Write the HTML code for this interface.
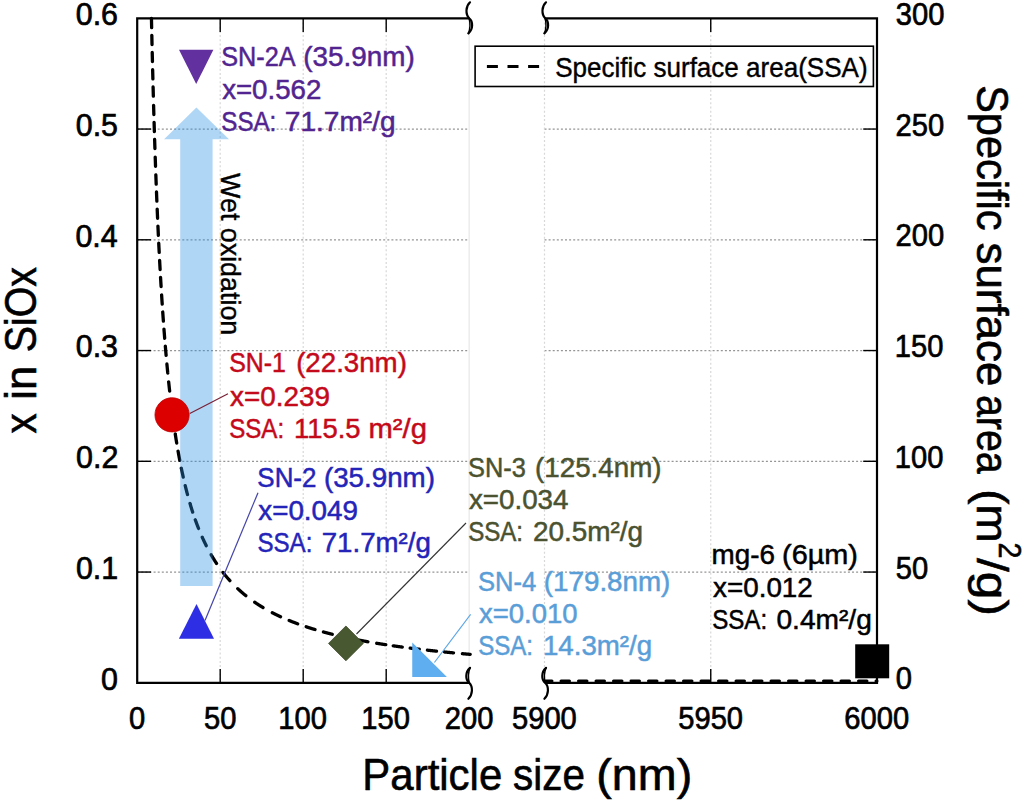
<!DOCTYPE html>
<html><head><meta charset="utf-8"><style>
html,body{margin:0;padding:0;background:#fff;overflow:hidden;width:1025px;height:800px;}
svg{display:block;font-family:"Liberation Sans", sans-serif;}
</style></head><body>
<svg width="1025" height="800" viewBox="0 0 1025 800">
<rect width="1025" height="800" fill="#fff"/>
<g stroke="#959595" stroke-width="1.2" stroke-dasharray="2 2.1"><line x1="137.2" y1="572.05" x2="469.20" y2="572.05"/><line x1="544.5" y1="572.05" x2="877.00" y2="572.05"/><line x1="137.2" y1="461.30" x2="469.20" y2="461.30"/><line x1="544.5" y1="461.30" x2="877.00" y2="461.30"/><line x1="137.2" y1="350.55" x2="469.20" y2="350.55"/><line x1="544.5" y1="350.55" x2="877.00" y2="350.55"/><line x1="137.2" y1="239.80" x2="469.20" y2="239.80"/><line x1="544.5" y1="239.80" x2="877.00" y2="239.80"/><line x1="137.2" y1="129.05" x2="469.20" y2="129.05"/><line x1="544.5" y1="129.05" x2="877.00" y2="129.05"/></g>
<g stroke="#d8d8d8" stroke-width="1.2" stroke-dasharray="2 2.2"><line x1="220.20" y1="18.299999999999955" x2="220.20" y2="682.8"/><line x1="303.20" y1="18.299999999999955" x2="303.20" y2="682.8"/><line x1="386.20" y1="18.299999999999955" x2="386.20" y2="682.8"/><line x1="544.50" y1="18.299999999999955" x2="544.50" y2="682.8"/><line x1="710.75" y1="18.299999999999955" x2="710.75" y2="682.8"/></g>
<line x1="469.20" y1="18.299999999999955" x2="469.20" y2="682.8" stroke="#ececec" stroke-width="1.5"/>
<g stroke="#000" stroke-width="1.4"><line x1="137.2" y1="572.05" x2="151.00" y2="572.05"/><line x1="863.20" y1="572.05" x2="877.0" y2="572.05"/><line x1="137.2" y1="461.30" x2="151.00" y2="461.30"/><line x1="863.20" y1="461.30" x2="877.0" y2="461.30"/><line x1="137.2" y1="350.55" x2="151.00" y2="350.55"/><line x1="863.20" y1="350.55" x2="877.0" y2="350.55"/><line x1="137.2" y1="239.80" x2="151.00" y2="239.80"/><line x1="863.20" y1="239.80" x2="877.0" y2="239.80"/><line x1="137.2" y1="129.05" x2="151.00" y2="129.05"/><line x1="863.20" y1="129.05" x2="877.0" y2="129.05"/><line x1="220.20" y1="682.8" x2="220.20" y2="669.00"/><line x1="220.20" y1="18.299999999999955" x2="220.20" y2="32.10"/><line x1="303.20" y1="682.8" x2="303.20" y2="669.00"/><line x1="303.20" y1="18.299999999999955" x2="303.20" y2="32.10"/><line x1="386.20" y1="682.8" x2="386.20" y2="669.00"/><line x1="386.20" y1="18.299999999999955" x2="386.20" y2="32.10"/><line x1="710.75" y1="682.8" x2="710.75" y2="669.00"/><line x1="710.75" y1="18.299999999999955" x2="710.75" y2="32.10"/></g>
<path d="M469.2,18.299999999999955 H137.2 V682.8 H469.2 M545.2,18.299999999999955 H877.0 V682.8 H545.2" fill="none" stroke="#000" stroke-width="2.2"/>
<g transform="translate(469.2,682.8)"><path d="M0.8,-15 C-4,-11 -4,-3 0,0 C4,4 3.5,12 -0.8,16" fill="none" stroke="#000" stroke-width="2.2" stroke-linecap="round"/><path d="M0.8,-15 C-1,-11 -1,-4 0,0" fill="none" stroke="#000" stroke-width="1.6" stroke-linecap="round"/></g>
<g transform="translate(545.2,682.8)"><path d="M0.8,-15 C-4,-11 -4,-3 0,0 C4,4 3.5,12 -0.8,16" fill="none" stroke="#000" stroke-width="2.2" stroke-linecap="round"/><path d="M0.8,-15 C-1,-11 -1,-4 0,0" fill="none" stroke="#000" stroke-width="1.6" stroke-linecap="round"/></g>
<g transform="translate(469.2,18.299999999999955) rotate(180)"><path d="M0.8,-15 C-4,-11 -4,-3 0,0 C4,4 3.5,12 -0.8,16" fill="none" stroke="#000" stroke-width="2.2" stroke-linecap="round"/><path d="M0.8,-15 C-1,-11 -1,-4 0,0" fill="none" stroke="#000" stroke-width="1.6" stroke-linecap="round"/></g>
<g transform="translate(545.2,18.299999999999955) rotate(180)"><path d="M0.8,-15 C-4,-11 -4,-3 0,0 C4,4 3.5,12 -0.8,16" fill="none" stroke="#000" stroke-width="2.2" stroke-linecap="round"/><path d="M0.8,-15 C-1,-11 -1,-4 0,0" fill="none" stroke="#000" stroke-width="1.6" stroke-linecap="round"/></g>
<path d="M151.45,18.30 L151.45,18.30 L151.65,27.70 M151.82,35.33 L151.83,35.44 L152.03,44.52 M152.22,52.39 L152.22,52.61 L152.44,61.39 L152.44,61.59 M152.64,69.72 L152.64,69.73 L152.86,78.05 L152.88,78.91 M153.09,87.02 L153.10,87.15 L153.31,95.01 L153.34,96.22 M153.59,105.29 L153.60,105.48 L153.81,112.86 L153.86,114.49 M154.09,122.38 L154.10,122.54 L154.31,129.50 L154.38,131.57 M154.62,139.38 L154.63,139.45 L154.84,146.00 L154.92,148.57 M155.21,157.11 L155.21,157.23 L155.43,163.36 L155.53,166.30 M155.84,174.99 L155.85,175.05 L156.06,180.77 L156.19,184.18 M156.49,191.98 L156.50,192.11 L156.71,197.45 L156.86,201.18 M157.19,209.09 L157.19,209.19 L157.40,214.17 L157.58,218.28 M157.93,226.11 L157.93,226.18 L158.15,230.81 L158.36,235.30 M158.74,243.20 L158.74,243.30 L158.95,247.59 L159.17,251.80 L159.20,252.38 M159.61,260.29 L159.61,260.38 L159.83,264.35 L160.04,268.24 L160.11,269.48 M160.55,277.31 L160.55,277.39 L160.77,281.04 L160.98,284.63 L161.09,286.49 M161.61,295.00 L161.62,295.03 L161.83,298.38 L162.04,301.66 L162.21,304.19 M162.73,312.00 L162.74,312.05 L162.95,315.11 L163.16,318.12 L163.38,321.08 L163.38,321.18 M163.97,329.09 L163.97,329.12 L164.18,331.91 L164.40,334.65 L164.61,337.35 L164.68,338.27 M165.32,346.10 L165.32,346.16 L165.54,348.68 L165.75,351.17 L165.96,353.62 L166.11,355.27 M166.90,363.99 L166.90,364.04 L167.12,366.30 L167.33,368.54 L167.54,370.74 L167.75,372.91 L167.78,373.15 M168.66,381.89 L168.67,381.91 L168.88,383.92 L169.09,385.92 L169.30,387.88 L169.52,389.82 L169.65,391.04 M170.60,399.30 L170.60,399.33 L170.81,401.12 L171.03,402.89 L171.24,404.64 L171.45,406.36 L171.66,408.07 L171.71,408.43 M172.78,416.66 L172.78,416.68 L172.99,418.26 L173.20,419.82 L173.42,421.37 L173.63,422.89 L173.84,424.40 L174.04,425.77 M175.25,433.98 L175.25,433.99 L175.47,435.38 L175.68,436.74 L175.89,438.09 L176.10,439.43 L176.32,440.75 L176.53,442.06 L176.69,443.07 M178.09,451.27 L178.10,451.29 L178.31,452.48 L178.52,453.67 L178.73,454.84 L178.95,456.00 L179.16,457.15 L179.37,458.29 L179.58,459.41 L179.76,460.32 M181.31,468.17 L181.32,468.18 L181.53,469.21 L181.74,470.23 L181.95,471.24 L182.17,472.24 L182.38,473.23 L182.59,474.21 L182.80,475.18 L183.02,476.14 L183.23,477.10 L183.24,477.16 M185.20,485.57 L185.20,485.57 L185.42,486.44 L185.63,487.30 L185.84,488.15 L186.05,489.00 L186.27,489.84 L186.48,490.67 L186.69,491.50 L186.90,492.31 L187.12,493.12 L187.33,493.93 L187.48,494.48 M189.96,503.35 L189.96,503.36 L190.18,504.08 L190.39,504.79 L190.60,505.50 L190.81,506.21 L191.03,506.90 L191.24,507.59 L191.45,508.28 L191.66,508.96 L191.88,509.64 L192.09,510.31 L192.30,510.97 L192.51,511.63 L192.68,512.14 M195.29,519.82 L195.30,519.83 L195.51,520.43 L195.72,521.02 L195.94,521.60 L196.15,522.18 L196.36,522.76 L196.57,523.33 L196.79,523.90 L197.00,524.47 L197.21,525.03 L197.42,525.58 L197.64,526.14 L197.85,526.69 L198.06,527.23 L198.27,527.77 L198.49,528.31 L198.54,528.43 M202.26,537.28 L202.27,537.29 L202.48,537.76 L202.69,538.24 L202.91,538.70 L203.12,539.17 L203.33,539.63 L203.54,540.09 L203.76,540.54 L203.97,541.00 L204.18,541.45 L204.39,541.89 L204.61,542.34 L204.82,542.78 L205.03,543.22 L205.24,543.65 L205.46,544.09 L205.67,544.52 L205.88,544.94 L206.09,545.37 L206.24,545.66 M211.08,554.64 L211.08,554.65 L211.29,555.02 L211.51,555.38 L211.72,555.75 L211.93,556.11 L212.14,556.47 L212.36,556.82 L212.57,557.18 L212.78,557.53 L212.99,557.88 L213.21,558.23 L213.42,558.58 L213.63,558.92 L213.84,559.27 L214.06,559.61 L214.27,559.95 L214.48,560.29 L214.69,560.62 L214.91,560.96 L215.12,561.29 L215.33,561.62 L215.54,561.95 L215.76,562.28 L215.97,562.60 L216.18,562.92 L216.39,563.25 L216.53,563.46 M222.87,572.29 L222.88,572.29 L223.09,572.56 L223.30,572.84 L223.51,573.11 L223.73,573.38 L223.94,573.64 L224.15,573.91 L224.36,574.18 L224.58,574.44 L224.79,574.70 L225.00,574.96 L225.21,575.22 L225.43,575.48 L225.64,575.74 L225.85,576.00 L226.06,576.25 L226.28,576.51 L226.49,576.76 L226.70,577.01 L226.91,577.26 L227.13,577.51 L227.34,577.76 L227.55,578.01 L227.76,578.25 L227.98,578.50 L228.19,578.74 L228.40,578.98 L228.61,579.23 L228.83,579.47 L229.04,579.71 L229.25,579.94 L229.46,580.18 L229.68,580.42 L229.89,580.65 L229.89,580.65 M237.75,588.64 L237.75,588.64 L237.96,588.84 L238.18,589.03 L238.39,589.23 L238.60,589.43 L238.81,589.62 L239.03,589.82 L239.24,590.01 L239.45,590.20 L239.66,590.40 L239.88,590.59 L240.09,590.78 L240.30,590.97 L240.51,591.16 L240.73,591.34 L240.94,591.53 L241.15,591.72 L241.36,591.90 L241.58,592.09 L241.79,592.27 L242.00,592.46 L242.21,592.64 L242.43,592.82 L242.64,593.00 L242.85,593.18 L243.06,593.36 L243.28,593.54 L243.49,593.72 L243.70,593.90 L243.91,594.08 L244.13,594.25 L244.34,594.43 L244.55,594.60 L244.76,594.78 L244.98,594.95 L245.19,595.12 L245.40,595.30 L245.61,595.47 L245.83,595.64 L245.83,595.64 M254.72,602.24 L254.72,602.24 L254.94,602.38 L255.15,602.53 L255.36,602.67 L255.57,602.82 L255.79,602.96 L256.00,603.10 L256.21,603.24 L256.42,603.39 L256.64,603.53 L256.85,603.67 L257.06,603.81 L257.27,603.95 L257.49,604.09 L257.70,604.23 L257.91,604.37 L258.12,604.50 L258.34,604.64 L258.55,604.78 L258.76,604.91 L258.97,605.05 L259.19,605.18 L259.40,605.32 L259.61,605.45 L259.82,605.59 L260.04,605.72 L260.25,605.86 L260.46,605.99 L260.67,606.12 L260.89,606.25 L261.10,606.38 L261.31,606.51 L261.52,606.64 L261.74,606.77 L261.95,606.90 L262.16,607.03 L262.37,607.16 L262.59,607.29 L262.80,607.42 L263.01,607.54 L263.03,607.56 M272.26,612.70 L272.26,612.70 L272.47,612.81 L272.69,612.92 L272.90,613.03 L273.11,613.14 L273.32,613.25 L273.54,613.35 L273.75,613.46 L273.96,613.57 L274.17,613.68 L274.39,613.78 L274.60,613.89 L274.81,614.00 L275.02,614.10 L275.24,614.21 L275.45,614.31 L275.66,614.42 L275.87,614.52 L276.09,614.63 L276.30,614.73 L276.51,614.84 L276.72,614.94 L276.94,615.04 L277.15,615.15 L277.36,615.25 L277.57,615.35 L277.79,615.45 L278.00,615.55 L278.21,615.66 L278.42,615.76 L278.64,615.86 L278.85,615.96 L279.06,616.06 L279.27,616.16 L279.49,616.26 L279.70,616.36 L279.91,616.46 L280.12,616.55 L280.34,616.65 L280.52,616.74 M289.10,620.47 L289.11,620.47 L289.32,620.56 L289.53,620.65 L289.74,620.73 L289.96,620.82 L290.17,620.91 L290.38,620.99 L290.59,621.08 L290.81,621.16 L291.02,621.25 L291.23,621.33 L291.44,621.42 L291.66,621.50 L291.87,621.59 L292.08,621.67 L292.29,621.75 L292.51,621.84 L292.72,621.92 L292.93,622.00 L293.14,622.09 L293.36,622.17 L293.57,622.25 L293.78,622.33 L293.99,622.42 L294.21,622.50 L294.42,622.58 L294.63,622.66 L294.84,622.74 L295.06,622.82 L295.27,622.90 L295.48,622.98 L295.69,623.06 L295.91,623.14 L296.12,623.22 L296.33,623.30 L296.54,623.38 L296.76,623.46 L296.97,623.54 L297.18,623.62 L297.39,623.70 L297.61,623.78 L297.68,623.80 M306.22,626.78 L306.22,626.78 L306.44,626.85 L306.65,626.92 L306.86,626.99 L307.07,627.06 L307.29,627.13 L307.50,627.20 L307.71,627.27 L307.92,627.34 L308.14,627.41 L308.35,627.48 L308.56,627.55 L308.77,627.62 L308.99,627.69 L309.20,627.75 L309.41,627.82 L309.62,627.89 L309.84,627.96 L310.05,628.02 L310.26,628.09 L310.47,628.16 L310.69,628.23 L310.90,628.29 L311.11,628.36 L311.32,628.42 L311.54,628.49 L311.75,628.56 L311.96,628.62 L312.17,628.69 L312.39,628.75 L312.60,628.82 L312.81,628.89 L313.02,628.95 L313.24,629.02 L313.45,629.08 L313.66,629.15 L313.87,629.21 L314.09,629.27 L314.30,629.34 L314.51,629.40 L314.72,629.47 L314.94,629.53 L315.00,629.55 M323.35,631.94 L323.36,631.94 L323.57,632.00 L323.78,632.06 L323.99,632.11 L324.21,632.17 L324.42,632.23 L324.63,632.29 L324.84,632.34 L325.06,632.40 L325.27,632.46 L325.48,632.51 L325.69,632.57 L325.91,632.63 L326.12,632.68 L326.33,632.74 L326.54,632.80 L326.76,632.85 L326.97,632.91 L327.18,632.96 L327.39,633.02 L327.61,633.07 L327.82,633.13 L328.03,633.19 L328.24,633.24 L328.46,633.30 L328.67,633.35 L328.88,633.41 L329.09,633.46 L329.31,633.51 L329.52,633.57 L329.73,633.62 L329.94,633.68 L330.16,633.73 L330.37,633.79 L330.58,633.84 L330.79,633.89 L331.01,633.95 L331.22,634.00 L331.43,634.05 L331.64,634.11 L331.86,634.16 L332.07,634.21 L332.26,634.26 M341.17,636.38 L341.17,636.38 L341.38,636.43 L341.60,636.48 L341.81,636.53 L342.02,636.57 L342.23,636.62 L342.45,636.67 L342.66,636.72 L342.87,636.77 L343.08,636.81 L343.30,636.86 L343.51,636.91 L343.72,636.95 L343.93,637.00 L344.15,637.05 L344.36,637.10 L344.57,637.14 L344.78,637.19 L345.00,637.24 L345.21,637.28 L345.42,637.33 L345.63,637.38 L345.85,637.42 L346.06,637.47 L346.27,637.51 L346.48,637.56 L346.70,637.61 L346.91,637.65 L347.12,637.70 L347.33,637.74 L347.55,637.79 L347.76,637.83 L347.97,637.88 L348.18,637.92 L348.40,637.97 L348.61,638.01 L348.82,638.06 L349.03,638.10 L349.25,638.15 L349.46,638.19 L349.67,638.24 L349.88,638.28 L350.10,638.33 L350.15,638.34 M358.87,640.09 L358.87,640.09 L359.08,640.13 L359.30,640.17 L359.51,640.21 L359.72,640.25 L359.93,640.29 L360.15,640.33 L360.36,640.37 L360.57,640.41 L360.78,640.45 L361.00,640.49 L361.21,640.53 L361.42,640.57 L361.63,640.61 L361.85,640.65 L362.06,640.69 L362.27,640.73 L362.48,640.77 L362.70,640.81 L362.91,640.85 L363.12,640.89 L363.33,640.93 L363.55,640.97 L363.76,641.01 L363.97,641.05 L364.18,641.09 L364.40,641.13 L364.61,641.17 L364.82,641.20 L365.03,641.24 L365.25,641.28 L365.46,641.32 L365.67,641.36 L365.88,641.40 L366.10,641.44 L366.31,641.47 L366.52,641.51 L366.73,641.55 L366.95,641.59 L367.16,641.63 L367.37,641.67 L367.58,641.70 L367.80,641.74 L367.92,641.76 M376.68,643.26 L376.68,643.27 L376.90,643.30 L377.11,643.34 L377.32,643.37 L377.53,643.40 L377.75,643.44 L377.96,643.47 L378.17,643.51 L378.38,643.54 L378.60,643.58 L378.81,643.61 L379.02,643.65 L379.23,643.68 L379.45,643.72 L379.66,643.75 L379.87,643.78 L380.08,643.82 L380.30,643.85 L380.51,643.89 L380.72,643.92 L380.93,643.95 L381.15,643.99 L381.36,644.02 L381.57,644.06 L381.78,644.09 L382.00,644.12 L382.21,644.16 L382.42,644.19 L382.63,644.22 L382.85,644.26 L383.06,644.29 L383.27,644.32 L383.48,644.36 L383.70,644.39 L383.91,644.42 L384.12,644.46 L384.33,644.49 L384.55,644.52 L384.76,644.55 L384.97,644.59 L385.18,644.62 L385.40,644.65 L385.61,644.69 L385.77,644.71 M393.18,645.81 L393.19,645.81 L393.40,645.84 L393.61,645.87 L393.82,645.91 L394.04,645.94 L394.25,645.97 L394.46,646.00 L394.67,646.03 L394.89,646.06 L395.10,646.09 L395.31,646.12 L395.52,646.15 L395.74,646.18 L395.95,646.21 L396.16,646.24 L396.37,646.27 L396.59,646.30 L396.80,646.33 L397.01,646.36 L397.22,646.39 L397.44,646.42 L397.65,646.45 L397.86,646.48 L398.07,646.51 L398.29,646.54 L398.50,646.57 L398.71,646.59 L398.92,646.62 L399.14,646.65 L399.35,646.68 L399.56,646.71 L399.77,646.74 L399.99,646.77 L400.20,646.80 L400.41,646.83 L400.62,646.86 L400.84,646.89 L401.05,646.92 L401.26,646.94 L401.47,646.97 L401.69,647.00 L401.90,647.03 L402.11,647.06 L402.30,647.08 M410.14,648.11 L410.14,648.11 L410.36,648.14 L410.57,648.17 L410.78,648.19 L410.99,648.22 L411.21,648.25 L411.42,648.27 L411.63,648.30 L411.84,648.33 L412.06,648.35 L412.27,648.38 L412.48,648.41 L412.69,648.43 L412.91,648.46 L413.12,648.49 L413.33,648.51 L413.54,648.54 L413.76,648.56 L413.97,648.59 L414.18,648.62 L414.39,648.64 L414.61,648.67 L414.82,648.70 L415.03,648.72 L415.24,648.75 L415.46,648.77 L415.67,648.80 L415.88,648.83 L416.09,648.85 L416.31,648.88 L416.52,648.90 L416.73,648.93 L416.94,648.95 L417.16,648.98 L417.37,649.01 L417.58,649.03 L417.79,649.06 L418.01,649.08 L418.22,649.11 L418.43,649.13 L418.64,649.16 L418.86,649.18 L419.07,649.21 L419.27,649.23 M427.40,650.17 L427.40,650.17 L427.61,650.20 L427.82,650.22 L428.04,650.25 L428.25,650.27 L428.46,650.29 L428.67,650.32 L428.89,650.34 L429.10,650.36 L429.31,650.39 L429.52,650.41 L429.74,650.43 L429.95,650.46 L430.16,650.48 L430.37,650.51 L430.59,650.53 L430.80,650.55 L431.01,650.58 L431.22,650.60 L431.44,650.62 L431.65,650.64 L431.86,650.67 L432.07,650.69 L432.29,650.71 L432.50,650.74 L432.71,650.76 L432.92,650.78 L433.14,650.81 L433.35,650.83 L433.56,650.85 L433.77,650.88 L433.99,650.90 L434.20,650.92 L434.41,650.94 L434.62,650.97 L434.84,650.99 L435.05,651.01 L435.26,651.03 L435.47,651.06 L435.69,651.08 L435.90,651.10 L436.11,651.12 L436.32,651.15 L436.54,651.17 L436.54,651.17 M444.39,651.98 L444.39,651.98 L444.61,652.00 L444.82,652.02 L445.03,652.04 L445.24,652.06 L445.46,652.09 L445.67,652.11 L445.88,652.13 L446.09,652.15 L446.31,652.17 L446.52,652.19 L446.73,652.21 L446.94,652.23 L447.16,652.25 L447.37,652.27 L447.58,652.30 L447.79,652.32 L448.01,652.34 L448.22,652.36 L448.43,652.38 L448.64,652.40 L448.86,652.42 L449.07,652.44 L449.28,652.46 L449.49,652.48 L449.71,652.50 L449.92,652.52 L450.13,652.54 L450.34,652.56 L450.56,652.59 L450.77,652.61 L450.98,652.63 L451.19,652.65 L451.41,652.67 L451.62,652.69 L451.83,652.71 L452.04,652.73 L452.26,652.75 L452.47,652.77 L452.68,652.79 L452.89,652.81 L453.11,652.83 L453.32,652.85 L453.53,652.87 L453.55,652.87 M462.40,653.69 L462.40,653.69 L462.61,653.70 L462.83,653.72 L463.04,653.74 L463.25,653.76 L463.46,653.78 L463.68,653.80 L463.89,653.82 L464.10,653.84 L464.32,653.86 L464.53,653.87 L464.74,653.89 L464.95,653.91 L465.17,653.93 L465.38,653.95 L465.59,653.97 L465.80,653.99 L466.02,654.01 L466.23,654.02 L466.44,654.04 L466.65,654.06 L466.87,654.08 L467.08,654.10 L467.29,654.12 L467.50,654.14 L467.72,654.15 L467.93,654.17 L468.14,654.19 L468.35,654.21 L468.57,654.23 L468.78,654.25 L468.99,654.26 L469.20,654.28 L469.42,654.30 L469.63,654.32 L469.84,654.34 L470.05,654.35 L470.20,654.37" fill="none" stroke="#000" stroke-width="3.3" stroke-linecap="round" stroke-linejoin="round"/>
<polyline points="545.5,681.03 877.0,681.05" fill="none" stroke="#000" stroke-width="3" stroke-linecap="round" stroke-dasharray="8.5 9" stroke-dashoffset="-15.5"/>
<polygon points="180.2,586 180.2,139.3 164.1,139.3 196.4,107.6 229,139.3 212.6,139.3 212.6,586" fill="#2990E7" fill-opacity="0.37"/>
<line x1="189.8" y1="413.5" x2="228" y2="393.8" stroke="#7a2035" stroke-width="1.2"/>
<line x1="205" y1="620.5" x2="258" y2="492.7" stroke="#4444aa" stroke-width="1.2"/>
<line x1="356.5" y1="634" x2="466" y2="523" stroke="#333" stroke-width="1.1"/>
<line x1="434.4" y1="662.5" x2="470.6" y2="614.4" stroke="#5aa5e6" stroke-width="1.1"/>
<polygon points="179,49.8 213.4,49.8 196.2,84" fill="#6330A0"/>
<circle cx="172.05" cy="414.85" r="17.1" fill="#DC0000" stroke="#c00000" stroke-width="0.8"/>
<polygon points="196.5,604 214,638.8 178.9,638.8" fill="#2E2FE4"/>
<polygon points="345.9,626 363.3,643.4 345.9,660.8 328.5,643.4" fill="#485830" stroke="#3d4a28" stroke-width="0.8"/>
<polygon points="412.25,642.5 412.25,676.9 446.9,676.9" fill="#5EAEF0"/>
<rect x="855.2" y="644.3" width="34" height="34" fill="#000"/>
<text transform="translate(76.93,25.10) scale(0.9600,1)" x="-1.27" y="0" font-size="31.7" fill="#000" stroke="#000" stroke-width="0.7">0.6</text>
<text transform="translate(76.93,135.85) scale(0.9600,1)" x="-1.27" y="0" font-size="31.7" fill="#000" stroke="#000" stroke-width="0.7">0.5</text>
<text transform="translate(76.63,246.60) scale(0.9600,1)" x="-1.27" y="0" font-size="31.7" fill="#000" stroke="#000" stroke-width="0.7">0.4</text>
<text transform="translate(76.93,357.35) scale(0.9600,1)" x="-1.27" y="0" font-size="31.7" fill="#000" stroke="#000" stroke-width="0.7">0.3</text>
<text transform="translate(77.24,468.10) scale(0.9600,1)" x="-1.27" y="0" font-size="31.7" fill="#000" stroke="#000" stroke-width="0.7">0.2</text>
<text transform="translate(77.09,578.85) scale(0.9600,1)" x="-1.27" y="0" font-size="31.7" fill="#000" stroke="#000" stroke-width="0.7">0.1</text>
<text transform="translate(102.19,689.60) scale(0.9600,1)" x="-1.27" y="0" font-size="31.7" fill="#000" stroke="#000" stroke-width="0.7">0</text>
<text transform="translate(897.00,24.90) scale(0.9200,1)" x="-1.27" y="0" font-size="31.7" fill="#000" stroke="#000" stroke-width="0.7">300</text>
<text transform="translate(897.00,135.65) scale(0.9200,1)" x="-1.58" y="0" font-size="31.7" fill="#000" stroke="#000" stroke-width="0.7">250</text>
<text transform="translate(897.00,246.40) scale(0.9200,1)" x="-1.58" y="0" font-size="31.7" fill="#000" stroke="#000" stroke-width="0.7">200</text>
<text transform="translate(897.00,357.15) scale(0.9200,1)" x="-2.38" y="0" font-size="31.7" fill="#000" stroke="#000" stroke-width="0.7">150</text>
<text transform="translate(897.00,467.90) scale(0.9200,1)" x="-2.38" y="0" font-size="31.7" fill="#000" stroke="#000" stroke-width="0.7">100</text>
<text transform="translate(897.00,578.65) scale(0.9200,1)" x="-1.27" y="0" font-size="31.7" fill="#000" stroke="#000" stroke-width="0.7">50</text>
<text transform="translate(897.00,689.40) scale(0.9200,1)" x="-1.27" y="0" font-size="31.7" fill="#000" stroke="#000" stroke-width="0.7">0</text>
<text transform="translate(130.20,728.60) scale(0.9200,1)" x="-1.27" y="0" font-size="31.7" fill="#000" stroke="#000" stroke-width="0.7">0</text>
<text transform="translate(205.11,728.60) scale(0.9200,1)" x="-1.27" y="0" font-size="31.7" fill="#000" stroke="#000" stroke-width="0.7">50</text>
<text transform="translate(280.52,728.60) scale(0.9200,1)" x="-2.38" y="0" font-size="31.7" fill="#000" stroke="#000" stroke-width="0.7">100</text>
<text transform="translate(363.52,728.60) scale(0.9200,1)" x="-2.38" y="0" font-size="31.7" fill="#000" stroke="#000" stroke-width="0.7">150</text>
<text transform="translate(446.16,728.60) scale(0.9200,1)" x="-1.58" y="0" font-size="31.7" fill="#000" stroke="#000" stroke-width="0.7">200</text>
<text transform="translate(513.15,728.60) scale(0.9200,1)" x="-1.27" y="0" font-size="31.7" fill="#000" stroke="#000" stroke-width="0.7">5900</text>
<text transform="translate(679.40,728.60) scale(0.9200,1)" x="-1.27" y="0" font-size="31.7" fill="#000" stroke="#000" stroke-width="0.7">5950</text>
<text transform="translate(845.79,728.60) scale(0.9200,1)" x="-1.58" y="0" font-size="31.7" fill="#000" stroke="#000" stroke-width="0.7">6000</text>
<text transform="translate(365.70,790.40) scale(0.9537,1)" x="-3.52" y="0" font-size="44" fill="#000" stroke="#000" stroke-width="0.6">Particle</text>
<text transform="translate(514.30,790.40) scale(0.9184,1)" x="-1.32" y="0" font-size="44" fill="#000" stroke="#000" stroke-width="0.6">size</text>
<text transform="translate(599.10,790.40) scale(1.0622,1)" x="-2.64" y="0" font-size="44" fill="#000" stroke="#000" stroke-width="0.6">(nm)</text>
<text transform="translate(35.60,433.10) rotate(-90) scale(0.9162,1)" x="-0.44" y="0" font-size="44" fill="#000" stroke="#000" stroke-width="0.6">x</text>
<text transform="translate(35.60,396.90) rotate(-90) scale(0.9919,1)" x="-2.86" y="0" font-size="44" fill="#000" stroke="#000" stroke-width="0.6">in</text>
<text transform="translate(35.60,350.60) rotate(-90) scale(0.8951,1)" x="-1.98" y="0" font-size="44" fill="#000" stroke="#000" stroke-width="0.6">SiOx</text>
<text transform="translate(977.00,87.00) rotate(90) scale(0.9442,1)" x="-1.98" y="0" font-size="44" fill="#000" stroke="#000" stroke-width="0.6">Specific</text>
<text transform="translate(977.00,243.75) rotate(90) scale(0.9981,1)" x="-1.32" y="0" font-size="44" fill="#000" stroke="#000" stroke-width="0.6">surface</text>
<text transform="translate(977.00,396.50) rotate(90) scale(0.8940,1)" x="-1.76" y="0" font-size="44" fill="#000" stroke="#000" stroke-width="0.6">area</text>
<text transform="translate(977.00,492.00) rotate(90) scale(1.0439,1)" x="-2.64" y="0" font-size="44" fill="#000" stroke="#000" stroke-width="0.6">(m</text>
<text transform="translate(977.00,558.00) rotate(90) scale(1.1312,1)" x="-0.00" y="0" font-size="44" fill="#000" stroke="#000" stroke-width="0.6">/g)</text>
<text transform="translate(999.00,544.00) rotate(90) scale(0.9217,1)" x="-1.55" y="0" font-size="31" fill="#000" stroke="#000" stroke-width="0.6">2</text>
<text transform="translate(220.90,173.25) rotate(90) scale(1.0019,1)" x="-0.13" y="0" font-size="26.8" fill="#000" stroke="#000" stroke-width="0.4">Wet oxidation</text>
<rect x="475.1" y="46.2" width="398.3" height="40.3" fill="none" stroke="#000" stroke-width="1.6"/>
<line x1="486.9" y1="66.5" x2="539.1" y2="66.5" stroke="#000" stroke-width="2.8" stroke-dasharray="11 9.6"/>
<text transform="translate(556.30,76.70) scale(0.9468,1)" x="-1.24" y="0" font-size="27.5" fill="#000" stroke="#000" stroke-width="0.4">Specific surface area(SSA)</text>
<text transform="translate(222.40,65.60) scale(0.9349,1)" x="-1.21" y="0" font-size="27" fill="#52248F" stroke="#52248F" stroke-width="0.5">SN-2A</text>
<text transform="translate(305.00,65.60) scale(1.0319,1)" x="-1.62" y="0" font-size="27" fill="#52248F" stroke="#52248F" stroke-width="0.5">(35.9nm)</text>
<text transform="translate(222.40,98.75) scale(1.0255,1)" x="-0.27" y="0" font-size="27" fill="#52248F" stroke="#52248F" stroke-width="0.5">x=0.562</text>
<text transform="translate(222.40,131.25) scale(0.8930,1)" x="-1.21" y="0" font-size="27" fill="#52248F" stroke="#52248F" stroke-width="0.5">SSA:</text>
<text transform="translate(286.25,131.25) scale(1.0396,1)" x="-1.35" y="0" font-size="27" fill="#52248F" stroke="#52248F" stroke-width="0.5">71.7m²/g</text>
<text transform="translate(230.30,372.40) scale(0.9230,1)" x="-1.21" y="0" font-size="27" fill="#C40A1A" stroke="#C40A1A" stroke-width="0.5">SN-1</text>
<text transform="translate(297.80,372.40) scale(1.0252,1)" x="-1.62" y="0" font-size="27" fill="#C40A1A" stroke="#C40A1A" stroke-width="0.5">(22.3nm)</text>
<text transform="translate(230.30,405.50) scale(1.0324,1)" x="-0.27" y="0" font-size="27" fill="#C40A1A" stroke="#C40A1A" stroke-width="0.5">x=0.239</text>
<text transform="translate(230.30,438.20) scale(0.8930,1)" x="-1.21" y="0" font-size="27" fill="#C40A1A" stroke="#C40A1A" stroke-width="0.5">SSA:</text>
<text transform="translate(296.00,438.20) scale(1.0165,1)" x="-2.02" y="0" font-size="27" fill="#C40A1A" stroke="#C40A1A" stroke-width="0.5">115.5</text>
<text transform="translate(370.40,438.20) scale(1.0814,1)" x="-1.76" y="0" font-size="27" fill="#C40A1A" stroke="#C40A1A" stroke-width="0.5">m²/g</text>
<text transform="translate(258.50,487.00) scale(0.9599,1)" x="-1.21" y="0" font-size="27" fill="#2424b8" stroke="#2424b8" stroke-width="0.5">SN-2</text>
<text transform="translate(325.60,487.00) scale(1.0271,1)" x="-1.62" y="0" font-size="27" fill="#2424b8" stroke="#2424b8" stroke-width="0.5">(35.9nm)</text>
<text transform="translate(258.50,519.80) scale(1.0303,1)" x="-0.27" y="0" font-size="27" fill="#2424b8" stroke="#2424b8" stroke-width="0.5">x=0.049</text>
<text transform="translate(258.50,552.40) scale(0.8930,1)" x="-1.21" y="0" font-size="27" fill="#2424b8" stroke="#2424b8" stroke-width="0.5">SSA:</text>
<text transform="translate(323.10,552.40) scale(1.0250,1)" x="-1.35" y="0" font-size="27" fill="#2424b8" stroke="#2424b8" stroke-width="0.5">71.7m²/g</text>
<text transform="translate(469.20,476.60) scale(0.9403,1)" x="-1.21" y="0" font-size="27" fill="#4a5230" stroke="#4a5230" stroke-width="0.5">SN-3</text>
<text transform="translate(536.70,476.60) scale(1.0280,1)" x="-1.62" y="0" font-size="27" fill="#4a5230" stroke="#4a5230" stroke-width="0.5">(125.4nm)</text>
<text transform="translate(469.20,509.40) scale(1.0281,1)" x="-0.27" y="0" font-size="27" fill="#4a5230" stroke="#4a5230" stroke-width="0.5">x=0.034</text>
<text transform="translate(469.20,541.20) scale(0.8930,1)" x="-1.21" y="0" font-size="27" fill="#4a5230" stroke="#4a5230" stroke-width="0.5">SSA:</text>
<text transform="translate(534.30,541.20) scale(1.0347,1)" x="-1.35" y="0" font-size="27" fill="#4a5230" stroke="#4a5230" stroke-width="0.5">20.5m²/g</text>
<text transform="translate(479.20,590.60) scale(0.9461,1)" x="-1.21" y="0" font-size="27" fill="#5a9ed8" stroke="#5a9ed8" stroke-width="0.5">SN-4</text>
<text transform="translate(545.50,590.60) scale(1.0289,1)" x="-1.62" y="0" font-size="27" fill="#5a9ed8" stroke="#5a9ed8" stroke-width="0.5">(179.8nm)</text>
<text transform="translate(479.20,623.40) scale(1.0180,1)" x="-0.27" y="0" font-size="27" fill="#5a9ed8" stroke="#5a9ed8" stroke-width="0.5">x=0.010</text>
<text transform="translate(479.20,655.10) scale(0.8930,1)" x="-1.21" y="0" font-size="27" fill="#5a9ed8" stroke="#5a9ed8" stroke-width="0.5">SSA:</text>
<text transform="translate(545.00,655.10) scale(1.0250,1)" x="-2.02" y="0" font-size="27" fill="#5a9ed8" stroke="#5a9ed8" stroke-width="0.5">14.3m²/g</text>
<text transform="translate(713.30,563.50) scale(1.0309,1)" x="-1.76" y="0" font-size="27" fill="#000" stroke="#000" stroke-width="0.5">mg-6</text>
<text transform="translate(783.80,563.50) scale(1.0683,1)" x="-1.62" y="0" font-size="27" fill="#000" stroke="#000" stroke-width="0.5">(6µm)</text>
<text transform="translate(713.30,596.50) scale(1.0307,1)" x="-0.27" y="0" font-size="27" fill="#000" stroke="#000" stroke-width="0.5">x=0.012</text>
<text transform="translate(713.30,628.80) scale(0.8930,1)" x="-1.21" y="0" font-size="27" fill="#000" stroke="#000" stroke-width="0.5">SSA:</text>
<text transform="translate(777.60,628.80) scale(1.0418,1)" x="-1.08" y="0" font-size="27" fill="#000" stroke="#000" stroke-width="0.5">0.4m²/g</text>
</svg>
</body></html>
